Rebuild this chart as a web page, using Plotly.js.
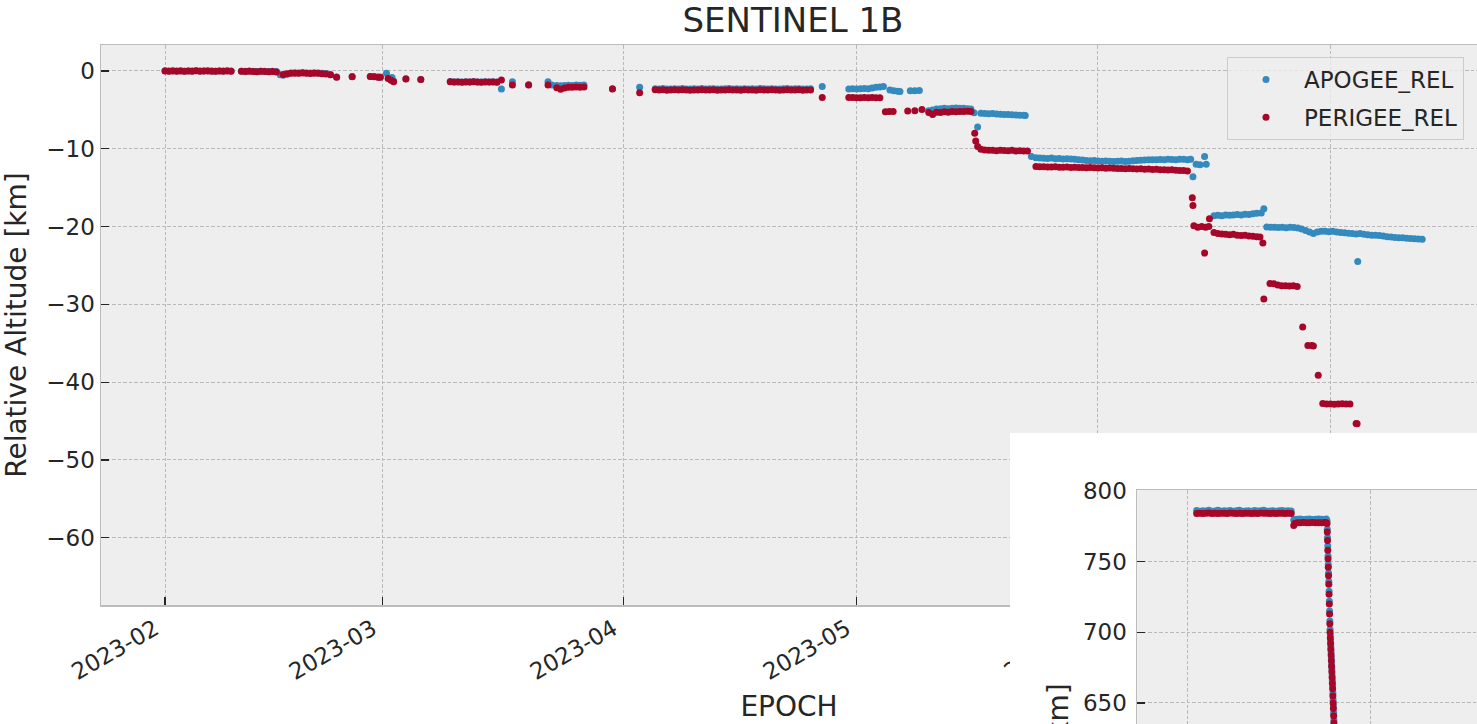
<!DOCTYPE html>
<html>
<head>
<meta charset="utf-8">
<script src="https://cdn.plot.ly/plotly-3.0.1.min.js"></script>
<style>
html,body{margin:0;padding:0;background:#ffffff;overflow:hidden;}
#chart{width:1477px;height:724px;}
</style>
</head>
<body>
<div id="chart"></div>
<script>
// ---------------- main chart data (relative altitude, km) ----------------
const perigeeEpoch = [
'2023-02-01 00','2023-02-01 12','2023-02-02 00','2023-02-02 12','2023-02-03 00','2023-02-03 12','2023-02-04 00','2023-02-04 12','2023-02-05 00','2023-02-05 12',
'2023-02-06 00','2023-02-06 12','2023-02-07 00','2023-02-07 12','2023-02-08 00','2023-02-08 12','2023-02-09 00','2023-02-09 12',
'2023-02-10 20','2023-02-11 08','2023-02-11 20','2023-02-12 08','2023-02-12 20','2023-02-13 08','2023-02-13 20','2023-02-14 08','2023-02-14 20','2023-02-15 08',
'2023-02-16 05','2023-02-16 17','2023-02-17 05','2023-02-17 17','2023-02-18 05','2023-02-18 17','2023-02-19 05','2023-02-19 17','2023-02-20 05','2023-02-20 17','2023-02-21 05','2023-02-21 17',
'2023-02-22 07','2023-02-23 02','2023-02-25 02','2023-02-27 10','2023-02-27 22','2023-02-28 10','2023-02-28 17','2023-03-01 17','2023-03-02 02','2023-03-02 10','2023-03-04 00','2023-03-05 22',
'2023-03-09 17','2023-03-10 05','2023-03-10 17','2023-03-11 05','2023-03-11 17','2023-03-12 05','2023-03-12 17','2023-03-13 05','2023-03-13 17','2023-03-14 05','2023-03-14 17','2023-03-15 05','2023-03-15 17',
'2023-03-16 07','2023-03-17 17','2023-03-19 19','2023-03-22 07',
'2023-03-23 10','2023-03-23 22','2023-03-24 10','2023-03-24 22','2023-03-25 10','2023-03-25 22','2023-03-26 10','2023-03-26 22',
'2023-03-30 14','2023-04-03 02',
'2023-04-05 02','2023-04-05 14','2023-04-06 02','2023-04-06 14','2023-04-07 02','2023-04-07 14','2023-04-08 02','2023-04-08 14','2023-04-09 02','2023-04-09 14',
'2023-04-10 02','2023-04-10 14','2023-04-11 02','2023-04-11 14','2023-04-12 02','2023-04-12 14','2023-04-13 02','2023-04-13 14','2023-04-14 02','2023-04-14 14',
'2023-04-15 02','2023-04-15 14','2023-04-16 02','2023-04-16 14','2023-04-17 02','2023-04-17 14','2023-04-18 02','2023-04-18 14','2023-04-19 02','2023-04-19 14',
'2023-04-20 02','2023-04-20 14','2023-04-21 02','2023-04-21 14','2023-04-22 02','2023-04-22 14','2023-04-23 02','2023-04-23 14','2023-04-24 02','2023-04-24 14','2023-04-25 02',
'2023-04-26 14',
'2023-04-30 00','2023-04-30 12','2023-05-01 00','2023-05-01 12','2023-05-02 00','2023-05-02 12','2023-05-03 00','2023-05-03 12','2023-05-04 00',
'2023-05-04 17','2023-05-05 05','2023-05-05 17',
'2023-05-07 14','2023-05-08 12','2023-05-09 10',
'2023-05-10 07','2023-05-10 19','2023-05-11 07','2023-05-11 19','2023-05-12 07','2023-05-12 19','2023-05-13 07','2023-05-13 19','2023-05-14 07','2023-05-14 19','2023-05-15 07','2023-05-15 17',
'2023-05-16 05','2023-05-16 08','2023-05-16 14',
'2023-05-17 00','2023-05-17 12','2023-05-18 00','2023-05-18 12','2023-05-19 00','2023-05-19 12','2023-05-20 00','2023-05-20 12','2023-05-21 00','2023-05-21 12','2023-05-22 00','2023-05-22 12','2023-05-23 00',
'2023-05-24 02','2023-05-24 14','2023-05-25 02','2023-05-25 14','2023-05-26 02','2023-05-26 14','2023-05-27 02','2023-05-27 14','2023-05-28 02','2023-05-28 14',
'2023-05-29 02','2023-05-29 14','2023-05-30 02','2023-05-30 14','2023-05-31 02','2023-05-31 14','2023-06-01 02','2023-06-01 14','2023-06-02 02','2023-06-02 14',
'2023-06-03 02','2023-06-03 14','2023-06-04 02','2023-06-04 14','2023-06-05 02','2023-06-05 14','2023-06-06 02','2023-06-06 14','2023-06-07 02','2023-06-07 14',
'2023-06-08 02','2023-06-08 14','2023-06-09 02','2023-06-09 14','2023-06-10 02','2023-06-10 14','2023-06-11 02','2023-06-11 14','2023-06-12 02','2023-06-12 14',
'2023-06-13 05','2023-06-13 07','2023-06-13 10','2023-06-13 22','2023-06-14 10','2023-06-14 19','2023-06-14 22','2023-06-15 08','2023-06-15 10',
'2023-06-16 00','2023-06-16 12','2023-06-17 00','2023-06-17 12','2023-06-18 00','2023-06-18 12','2023-06-19 00','2023-06-19 12','2023-06-20 00','2023-06-20 12','2023-06-21 00','2023-06-21 12','2023-06-21 22',
'2023-06-22 07','2023-06-22 10',
'2023-06-23 05','2023-06-23 17','2023-06-24 05','2023-06-24 17','2023-06-25 05','2023-06-25 17','2023-06-26 05','2023-06-26 17',
'2023-06-27 10','2023-06-28 02','2023-06-28 14','2023-06-28 19','2023-06-29 10',
'2023-06-30 00','2023-06-30 12','2023-07-01 00','2023-07-01 12','2023-07-02 00','2023-07-02 12','2023-07-03 00','2023-07-03 12',
'2023-07-04 07','2023-07-04 10',
'2023-07-05 12','2023-07-07 00','2023-07-08 12','2023-07-10 00','2023-07-11 12','2023-07-12 22'
];
const perigeeRel = [
0,-0.02,0.01,-0.03,0,-0.04,-0.01,-0.02,0.02,-0.03,
-0.01,0,-0.02,-0.04,-0.01,-0.03,0,-0.02,
-0.05,-0.08,-0.04,-0.06,-0.09,-0.05,-0.07,-0.1,-0.06,-0.12,
-0.45,-0.35,-0.3,-0.28,-0.3,-0.25,-0.3,-0.32,-0.28,-0.3,-0.35,-0.4,
-0.5,-0.82,-0.73,-0.72,-0.75,-0.8,-0.82,-0.95,-1.2,-1.37,-1.03,-1.1,
-1.38,-1.42,-1.4,-1.45,-1.4,-1.43,-1.38,-1.42,-1.45,-1.4,-1.43,-1.4,-1.44,
-1.16,-1.8,-1.8,-1.8,
-2.15,-2.35,-2.2,-2.1,-2.1,-2.05,-2.1,-2.05,
-2.3,-2.8,
-2.42,-2.45,-2.4,-2.47,-2.44,-2.42,-2.46,-2.4,-2.44,-2.48,
-2.43,-2.45,-2.41,-2.46,-2.44,-2.42,-2.47,-2.45,-2.43,-2.4,
-2.46,-2.44,-2.48,-2.42,-2.45,-2.43,-2.47,-2.41,-2.44,-2.46,
-2.42,-2.45,-2.48,-2.43,-2.41,-2.46,-2.44,-2.42,-2.47,-2.45,-2.43,
-3.4,
-3.42,-3.4,-3.45,-3.43,-3.4,-3.44,-3.42,-3.45,-3.43,
-5.25,-5.2,-5.22,
-5.15,-5.1,-4.95,
-5.35,-5.6,-5.3,-5.35,-5.25,-5.3,-5.2,-5.25,-5.2,-5.22,-5.18,-5.2,
-8.0,-9.0,-9.7,
-10.05,-10.15,-10.2,-10.2,-10.25,-10.2,-10.22,-10.25,-10.2,-10.28,-10.25,-10.3,-10.3,
-12.28,-12.32,-12.3,-12.35,-12.33,-12.3,-12.36,-12.38,-12.35,-12.4,
-12.38,-12.42,-12.4,-12.44,-12.42,-12.45,-12.47,-12.45,-12.5,-12.48,
-12.5,-12.55,-12.53,-12.56,-12.55,-12.58,-12.6,-12.57,-12.62,-12.6,
-12.65,-12.63,-12.68,-12.7,-12.72,-12.7,-12.75,-12.78,-12.8,-12.85,
-16.3,-17.3,-19.9,-20.1,-20.0,-23.4,-20.1,-20.0,-19.0,
-20.75,-20.9,-20.95,-21.0,-21.05,-21.0,-21.1,-21.15,-21.1,-21.2,-21.25,-21.3,-21.35,
-22.1,-29.3,
-27.3,-27.35,-27.5,-27.6,-27.6,-27.65,-27.6,-27.7,
-32.9,-35.3,-35.3,-35.35,-39.1,
-42.75,-42.8,-42.8,-42.85,-42.8,-42.78,-42.82,-42.8,
-45.3,-45.35,
-48.0,-51.0,-54.5,-57.8,-61.2,-65.4
];

const apogeeEpoch = [
'2023-02-01 00','2023-02-01 12','2023-02-02 00','2023-02-02 12','2023-02-03 00','2023-02-03 12','2023-02-04 00','2023-02-04 12','2023-02-05 00','2023-02-05 12',
'2023-02-06 00','2023-02-06 12','2023-02-07 00','2023-02-07 12','2023-02-08 00','2023-02-08 12','2023-02-09 00','2023-02-09 12',
'2023-02-10 20','2023-02-11 08','2023-02-11 20','2023-02-12 08','2023-02-12 20','2023-02-13 08','2023-02-13 20','2023-02-14 08','2023-02-14 20','2023-02-15 08',
'2023-02-15 20','2023-02-16 05','2023-02-16 17',
'2023-02-17 05','2023-02-17 17','2023-02-18 05','2023-02-18 17','2023-02-19 05','2023-02-19 17','2023-02-20 05','2023-02-20 17','2023-02-21 05','2023-02-21 17',
'2023-02-22 07','2023-02-23 02','2023-02-25 02','2023-02-27 10','2023-02-27 22','2023-02-28 10','2023-02-28 17','2023-03-01 12','2023-03-02 05','2023-03-02 10','2023-03-04 00','2023-03-05 22',
'2023-03-09 17','2023-03-10 05','2023-03-10 17','2023-03-11 05','2023-03-11 17','2023-03-12 05','2023-03-12 17','2023-03-13 05','2023-03-13 17','2023-03-14 05','2023-03-14 17','2023-03-15 05','2023-03-15 17',
'2023-03-16 07','2023-03-17 17','2023-03-19 19','2023-03-22 07','2023-03-22 19',
'2023-03-23 10','2023-03-23 22','2023-03-24 10','2023-03-24 22','2023-03-25 10','2023-03-25 22','2023-03-26 10','2023-03-26 22',
'2023-03-30 14','2023-04-03 02',
'2023-04-05 02','2023-04-05 14','2023-04-06 02','2023-04-06 14','2023-04-07 02','2023-04-07 14','2023-04-08 02','2023-04-08 14','2023-04-09 02','2023-04-09 14',
'2023-04-10 02','2023-04-10 14','2023-04-11 02','2023-04-11 14','2023-04-12 02','2023-04-12 14','2023-04-13 02','2023-04-13 14','2023-04-14 02','2023-04-14 14',
'2023-04-15 02','2023-04-15 14','2023-04-16 02','2023-04-16 14','2023-04-17 02','2023-04-17 14','2023-04-18 02','2023-04-18 14','2023-04-19 02','2023-04-19 14',
'2023-04-20 02','2023-04-20 14','2023-04-21 02','2023-04-21 14','2023-04-22 02','2023-04-22 14','2023-04-23 02','2023-04-23 14','2023-04-24 02','2023-04-24 14','2023-04-25 02',
'2023-04-26 14',
'2023-04-30 00','2023-04-30 12','2023-05-01 00','2023-05-01 12','2023-05-02 00','2023-05-02 12','2023-05-03 00','2023-05-03 12','2023-05-04 00','2023-05-04 11',
'2023-05-05 07','2023-05-05 19','2023-05-06 07','2023-05-06 14','2023-05-07 22','2023-05-08 12','2023-05-09 02',
'2023-05-10 07','2023-05-10 19','2023-05-11 07','2023-05-11 19','2023-05-12 07','2023-05-12 19','2023-05-13 07','2023-05-13 19','2023-05-14 07','2023-05-14 19','2023-05-15 07','2023-05-15 17',
'2023-05-16 03','2023-05-16 14',
'2023-05-17 00','2023-05-17 12','2023-05-18 00','2023-05-18 12','2023-05-19 00','2023-05-19 12','2023-05-20 00','2023-05-20 12','2023-05-21 00','2023-05-21 12','2023-05-22 00','2023-05-22 12','2023-05-22 17',
'2023-05-23 12','2023-05-24 02',
'2023-05-24 14','2023-05-25 02','2023-05-25 14','2023-05-26 02','2023-05-26 14','2023-05-27 02','2023-05-27 14','2023-05-28 02','2023-05-28 14',
'2023-05-29 02','2023-05-29 14','2023-05-30 02','2023-05-30 14','2023-05-31 02','2023-05-31 14','2023-06-01 02','2023-06-01 14','2023-06-02 02','2023-06-02 14',
'2023-06-03 02','2023-06-03 14','2023-06-04 02','2023-06-04 14','2023-06-05 02','2023-06-05 14','2023-06-06 02','2023-06-06 14','2023-06-07 02','2023-06-07 14',
'2023-06-08 02','2023-06-08 14','2023-06-09 02','2023-06-09 14','2023-06-10 02','2023-06-10 14','2023-06-11 02','2023-06-11 14','2023-06-12 02','2023-06-12 14',
'2023-06-13 00','2023-06-13 07','2023-06-13 17','2023-06-14 05','2023-06-14 19','2023-06-15 00',
'2023-06-16 00','2023-06-16 12','2023-06-17 00','2023-06-17 12','2023-06-18 00','2023-06-18 12','2023-06-19 00','2023-06-19 12','2023-06-20 00','2023-06-20 12','2023-06-21 00','2023-06-21 12','2023-06-22 02',
'2023-06-22 10',
'2023-06-22 19','2023-06-23 07','2023-06-23 19','2023-06-24 07','2023-06-24 19','2023-06-25 07','2023-06-25 19','2023-06-26 07','2023-06-26 19',
'2023-06-27 07','2023-06-27 19','2023-06-28 07','2023-06-28 19','2023-06-29 07','2023-06-29 19','2023-06-30 07','2023-06-30 19',
'2023-07-01 07','2023-07-01 19','2023-07-02 07','2023-07-02 19','2023-07-03 07','2023-07-03 19','2023-07-04 07','2023-07-04 12','2023-07-04 19',
'2023-07-05 07','2023-07-05 19','2023-07-06 07','2023-07-06 19','2023-07-07 07','2023-07-07 19','2023-07-08 07','2023-07-08 19',
'2023-07-09 07','2023-07-09 19','2023-07-10 07','2023-07-10 19','2023-07-11 07','2023-07-11 19','2023-07-12 07','2023-07-12 19'
];
const apogeeRel = [
0.02,0,0.03,-0.01,0.02,-0.02,0.01,0,0.03,-0.01,
0.01,0.02,0,-0.02,0.01,-0.01,0.02,0,
-0.02,-0.05,-0.01,-0.03,-0.06,-0.02,-0.04,-0.07,-0.03,-0.08,
-0.5,-0.55,-0.42,
-0.25,-0.22,-0.25,-0.2,-0.25,-0.27,-0.22,-0.25,-0.3,-0.33,
-0.45,-0.78,-0.7,-0.7,-0.72,-0.76,-0.8,-0.3,-0.85,-1.3,-1.0,-1.08,
-1.36,-1.4,-1.38,-1.42,-1.38,-1.4,-1.36,-1.4,-1.42,-1.38,-1.4,-1.38,-1.42,
-2.3,-1.37,-1.78,-1.37,-1.8,
-1.85,-1.9,-1.85,-1.82,-1.85,-1.8,-1.83,-1.8,
-2.28,-2.1,
-2.28,-2.3,-2.25,-2.32,-2.3,-2.27,-2.31,-2.26,-2.3,-2.33,
-2.28,-2.3,-2.26,-2.31,-2.29,-2.27,-2.32,-2.3,-2.28,-2.25,
-2.31,-2.29,-2.33,-2.27,-2.3,-2.28,-2.32,-2.26,-2.29,-2.31,
-2.27,-2.3,-2.33,-2.28,-2.26,-2.31,-2.29,-2.27,-2.32,-2.3,-2.28,
-2.0,
-2.3,-2.28,-2.3,-2.27,-2.25,-2.28,-2.2,-2.1,-2.05,-2.0,
-2.45,-2.55,-2.6,-2.65,-2.55,-2.55,-2.5,
-5.1,-5.0,-4.9,-4.85,-4.8,-4.85,-4.8,-4.75,-4.8,-4.8,-4.85,-4.9,
-5.38,-7.2,
-5.42,-5.45,-5.5,-5.48,-5.52,-5.55,-5.58,-5.6,-5.62,-5.65,-5.68,-5.7,-5.72,
-11.0,-11.15,
-11.2,-11.22,-11.25,-11.2,-11.28,-11.25,-11.3,-11.27,-11.32,
-11.35,-11.4,-11.45,-11.5,-11.55,-11.52,-11.58,-11.6,-11.57,-11.6,
-11.62,-11.6,-11.58,-11.62,-11.6,-11.55,-11.5,-11.48,-11.45,-11.42,
-11.4,-11.42,-11.38,-11.4,-11.35,-11.38,-11.4,-11.36,-11.35,-11.4,
-11.35,-13.6,-12.0,-12.05,-11.0,-12.0,
-18.6,-18.55,-18.6,-18.5,-18.55,-18.5,-18.45,-18.5,-18.4,-18.45,-18.35,-18.3,-18.25,
-17.7,
-20.05,-20.1,-20.08,-20.12,-20.1,-20.15,-20.1,-20.12,-20.18,
-20.3,-20.5,-20.7,-20.9,-20.7,-20.6,-20.6,-20.65,
-20.6,-20.7,-20.75,-20.8,-20.85,-20.9,-20.95,-24.5,-20.9,
-21.0,-21.05,-21.1,-21.1,-21.15,-21.2,-21.3,-21.35,
-21.4,-21.42,-21.45,-21.5,-21.52,-21.55,-21.6,-21.62
];

// ---------------- inset chart data (absolute altitude, km) ----------------
const insetEpoch = [
'2023-02-10 12','2023-02-13 12','2023-02-16 12','2023-02-19 12','2023-02-22 12','2023-02-25 12','2023-02-28 12','2023-03-03 12',
'2023-03-06 12','2023-03-09 12','2023-03-12 12','2023-03-15 12','2023-03-18 12','2023-03-21 12','2023-03-24 12','2023-03-27 12',
'2023-03-30 12','2023-04-02 12','2023-04-05 12','2023-04-08 12','2023-04-11 12','2023-04-14 12','2023-04-17 12','2023-04-20 12',
'2023-04-23 12','2023-04-26 12','2023-04-29 12','2023-05-02 12','2023-05-05 12','2023-05-08 12','2023-05-11 12','2023-05-14 12',
'2023-05-17 00','2023-05-18 00','2023-05-20 12','2023-05-23 12','2023-05-26 12','2023-05-29 12','2023-06-01 12','2023-06-04 12',
'2023-06-07 12','2023-06-10 12','2023-06-13 12','2023-06-16 12','2023-06-18 00',
'2023-06-18 18','2023-06-19 00','2023-06-19 06','2023-06-19 12','2023-06-19 18','2023-06-20 00','2023-06-20 06','2023-06-20 12',
'2023-06-20 18','2023-06-21 00','2023-06-21 06','2023-06-21 12','2023-06-21 18','2023-06-22 00','2023-06-22 06','2023-06-22 12',
'2023-06-22 18','2023-06-23 00','2023-06-23 06','2023-06-23 12','2023-06-23 18','2023-06-24 00','2023-06-24 06','2023-06-24 12',
'2023-06-24 18','2023-06-25 00','2023-06-25 06','2023-06-25 12','2023-06-25 18','2023-06-26 00','2023-06-26 12'
];
const insetApogee = [
786.2,785.6,786.0,785.8,786.3,785.7,785.9,786.4,
785.6,786.1,785.8,786.2,785.7,786.0,786.3,785.6,
785.9,786.1,785.7,786.2,785.8,786.0,786.3,785.6,
785.9,786.1,785.7,786.0,786.2,785.8,786.0,785.9,
779.5,779.8,780.0,780.1,779.9,780.0,780.1,779.9,
780.0,780.1,780.0,779.9,780.1,
779,773,767,761,754,748,742,736,
729,722,715,708,702,698,694,690,
686,682,678,674,670,666,662,657,
652,648,643,638,633,628,617
];
const insetPerigee = [
784.1,784.3,784.0,784.2,784.4,784.1,784.2,784.0,
784.3,784.2,784.1,784.4,784.2,784.0,784.3,784.1,
784.2,784.3,784.0,784.2,784.1,784.4,784.2,784.3,
784.0,784.2,784.1,784.3,784.2,784.0,784.2,784.1,
775.5,777.0,777.6,777.5,777.7,777.6,777.5,777.7,
777.6,777.5,777.6,777.7,777.6,
777,771,765,758,752,746,740,734,
727,720,713,706,700,696,692,688,
684,680,676,672,668,664,660,655,
650,646,641,636,631,626,615
];

// ---------------- styling ----------------
const FONT = 'DejaVu Sans, Verdana, sans-serif';
const BLUE = '#348ABD';
const RED = '#A60628';
const INK = '#262626';
const SPINE = '#bcbcbc';
const GRID = '#b9b9b9';
const W = 1477, H = 724;
const px = v => v / W;            // horizontal pixel -> paper fraction
const py = v => (H - v) / H;      // vertical pixel (from top) -> paper fraction

const traces = [
  {type:'scatter', mode:'markers', name:'APOGEE_REL', x:apogeeEpoch, y:apogeeRel,
   xaxis:'x', yaxis:'y', legendgroup:'apo', marker:{color:BLUE, size:7}, hoverinfo:'skip'},
  {type:'scatter', mode:'markers', name:'PERIGEE_REL', x:perigeeEpoch, y:perigeeRel,
   xaxis:'x', yaxis:'y', legendgroup:'peri', marker:{color:RED, size:7}, hoverinfo:'skip'},
  {type:'scatter', mode:'markers', name:'APOGEE', x:insetEpoch, y:insetApogee,
   xaxis:'x3', yaxis:'y3', showlegend:false, marker:{color:BLUE, size:7}, hoverinfo:'skip'},
  {type:'scatter', mode:'markers', name:'PERIGEE', x:insetEpoch, y:insetPerigee,
   xaxis:'x3', yaxis:'y3', showlegend:false, marker:{color:RED, size:7}, hoverinfo:'skip'}
];

const axisCommon = {
  showline:true, linecolor:SPINE, linewidth:1.5,
  ticks:'inside', ticklen:8, tickwidth:1.3, tickcolor:INK,
  showgrid:true, gridcolor:GRID, gridwidth:1, griddash:'3.5px,2px',
  zeroline:false, tickfont:{family:FONT, size:23, color:INK}
};

const layout = {
  width:W, height:H,
  margin:{l:0, r:0, t:0, b:0, pad:0},
  paper_bgcolor:'#ffffff', plot_bgcolor:'#eeeeee',
  font:{family:FONT, size:23, color:INK},
  hovermode:false,
  title:{text:'SENTINEL 1B', font:{family:FONT, size:34, color:INK},
         x:px(793), xref:'paper', xanchor:'center', y:py(20), yref:'container', yanchor:'middle'},
  showlegend:true,
  legend:{x:px(1227), xanchor:'left', y:py(57), yanchor:'top',
          bgcolor:'rgba(238,238,238,0.8)', bordercolor:'#cccccc', borderwidth:1,
          font:{family:FONT, size:23, color:INK}, itemwidth:66, tracegroupgap:5, traceorder:'grouped'},
  xaxis:Object.assign({}, axisCommon, {
    domain:[px(101), 1], anchor:'y', type:'date',
    range:['2023-01-23 18:14', '2023-07-19 20:24'],
    tick0:'2023-02-01', dtick:'M1', tickformat:'%Y-%m', tickangle:-30, mirror:true,
    ticklabelshift:-10,
    title:{text:'EPOCH', font:{family:FONT, size:28, color:INK}, standoff:12}
  }),
  yaxis:Object.assign({}, axisCommon, {
    domain:[py(605), py(45)], anchor:'x',
    range:[-68.64, 3.34], tick0:0, dtick:10,
    title:{text:'Relative Altitude [km]', font:{family:FONT, size:28, color:INK}, standoff:12}
  }),
  // white panel of the overlapping second figure
  xaxis2:{domain:[px(1010), 1], anchor:'y2', range:[0, 1], visible:false, fixedrange:true},
  yaxis2:{domain:[0, py(433)], anchor:'x2', range:[0, 1], visible:false, fixedrange:true},
  // inset axes (its date labels lie below the visible area)
  xaxis3:Object.assign({}, axisCommon, {
    domain:[px(1137), 1], anchor:'y3', type:'date',
    range:['2022-12-13 19:00', '2023-11-13 07:00'],
    tick0:'2023-02-01', dtick:'M6', ticks:'', showticklabels:false, mirror:true
  }),
  yaxis3:Object.assign({}, axisCommon, {
    domain:[0, py(490)], anchor:'x3',
    range:[635.1, 800.7], tick0:0, dtick:50, ticklabelstandoff:4
  }),
  shapes:[
    {type:'rect', xref:'x2', yref:'y2', x0:0, x1:1, y0:0, y1:1,
     fillcolor:'#ffffff', line:{width:0}, layer:'below'}
  ],
  annotations:[
    {text:'Altitude [km]', xref:'paper', yref:'paper', x:px(1058), y:py(775),
     xanchor:'center', yanchor:'middle', textangle:-90, showarrow:false,
     font:{family:FONT, size:28, color:INK}}
  ]
};

Plotly.newPlot('chart', traces, layout, {staticPlot:true, displayModeBar:false});
</script>
</body>
</html>
